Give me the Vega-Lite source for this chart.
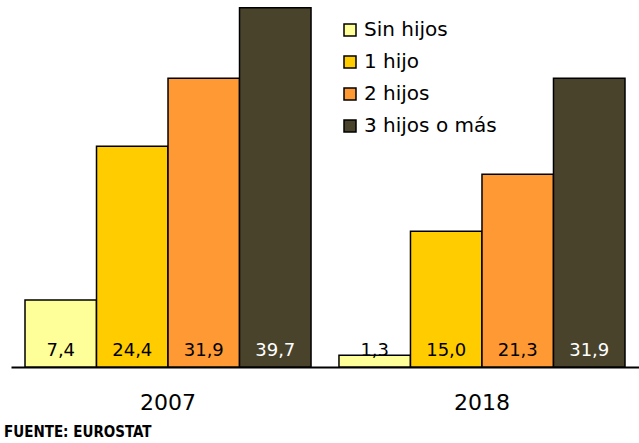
{
  "$schema": "https://vega.github.io/schema/vega-lite/v6.json",
  "autosize": "none",
  "width": 628,
  "height": 362,
  "padding": {"left": 11, "top": 5, "right": 0, "bottom": 76},
  "config": {
    "locale": {"number": {"decimal": ",", "thousands": ".", "grouping": [3], "currency": ["", " €"]}},
    "view": {"stroke": null},
    "font": "DejaVu Sans"
  },
  "title": {
    "text": "FUENTE: EUROSTAT",
    "orient": "bottom",
    "anchor": "start",
    "font": "DejaVu Sans Condensed",
    "fontSize": 15,
    "fontWeight": "bold",
    "color": "black",
    "offset": 12,
    "dx": -7
  },
  "data": {
    "values": [
      {"year": "2007", "cat": "Sin hijos", "value": 7.4},
      {"year": "2007", "cat": "1 hijo", "value": 24.4},
      {"year": "2007", "cat": "2 hijos", "value": 31.9},
      {"year": "2007", "cat": "3 hijos o más", "value": 39.7},
      {"year": "2018", "cat": "Sin hijos", "value": 1.3},
      {"year": "2018", "cat": "1 hijo", "value": 15.0},
      {"year": "2018", "cat": "2 hijos", "value": 21.3},
      {"year": "2018", "cat": "3 hijos o más", "value": 31.9}
    ]
  },
  "encoding": {
    "x": {
      "field": "year", "type": "nominal",
      "scale": {"paddingInner": 0.089, "paddingOuter": 0.0446},
      "axis": {"title": null, "labelAngle": 0, "ticks": false, "labelPadding": 25, "labelFontSize": 22, "labelColor": "black", "domainColor": "black", "domainWidth": 2}
    },
    "xOffset": {"field": "cat", "type": "nominal", "sort": ["Sin hijos", "1 hijo", "2 hijos", "3 hijos o más"], "scale": {"paddingInner": 0, "paddingOuter": 0}}
  },
  "layer": [
    {
      "mark": {"type": "bar", "stroke": "black", "strokeWidth": 1.5, "cornerRadius": 0},
      "encoding": {
        "y": {"field": "value", "type": "quantitative", "scale": {"domain": [0, 40]}, "axis": null},
        "color": {
          "field": "cat", "type": "nominal",
          "sort": ["Sin hijos", "1 hijo", "2 hijos", "3 hijos o más"],
          "scale": {"domain": ["Sin hijos", "1 hijo", "2 hijos", "3 hijos o más"], "range": ["#FFFF99", "#FFCC00", "#FF9933", "#4A432C"]},
          "legend": {
            "title": null, "orient": "none", "legendX": 329, "legendY": 15,
            "symbolType": "square", "symbolSize": 144, "symbolStrokeColor": "black", "symbolStrokeWidth": 1.5,
            "labelFontSize": 20, "labelColor": "black", "rowPadding": 12, "labelOffset": 4
          }
        }
      }
    },
    {
      "mark": {"type": "text", "fontSize": 18, "baseline": "middle", "dy": -16},
      "encoding": {
        "y": {"datum": 0, "type": "quantitative"},
        "text": {"field": "value", "type": "quantitative", "format": ".1f"},
        "color": {"condition": {"test": "datum.cat === '3 hijos o más'", "value": "white"}, "value": "black"}
      }
    }
  ]
}
